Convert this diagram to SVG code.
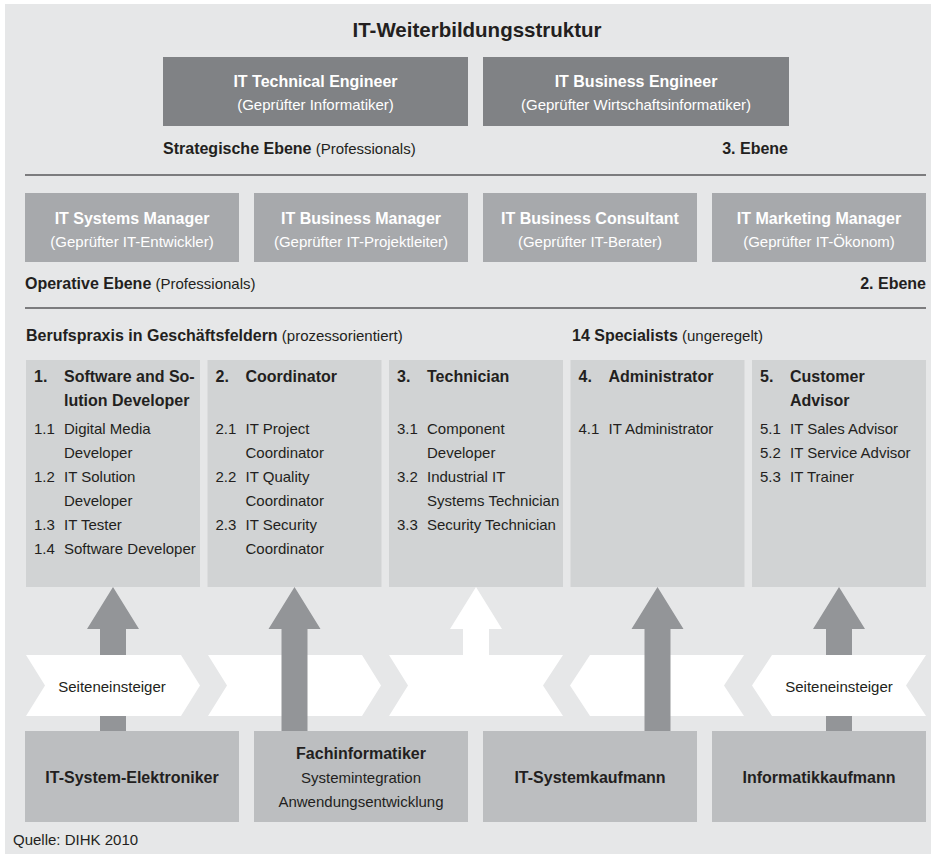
<svg xmlns="http://www.w3.org/2000/svg" xmlns:xlink="http://www.w3.org/1999/xlink" width="937" height="854" viewBox="0 0 937 854">
<style>
text { font-family: "Liberation Sans", Arial, sans-serif; fill: #231f20; }
.b { font-weight: bold; font-size: 16px; }
.r { font-weight: normal; font-size: 15px; }
.w { fill: #ffffff; }
.m { text-anchor: middle; }
.e { text-anchor: end; }
.top { fill: #808285; }
.mid { fill: #a7a9ac; }
.col { fill: #d1d3d4; }
.bot { fill: #bcbec0; }
.band { fill: #ffffff; }
.arr { fill: #939598; }
.rule { stroke: #58595b; stroke-width: 1.3; fill: none; }
</style>
<defs>
<path id="arrow" d="M0,0 L26,42 L13,42 L13,144 L-13,144 L-13,42 L-26,42 Z"/>
</defs>
<rect x="5" y="4" width="926" height="850" fill="#e6e7e8"/>
<text id="title" class="b m" x="477" y="37" style="font-size:20.5px">IT-Weiterbildungsstruktur</text>

<g id="it-technical-engineer">
<rect class="top" x="163" y="57" width="305" height="69"/>
<text class="b w m" x="315.5" y="87">IT Technical Engineer</text>
<text class="r w m" x="315.5" y="110">(Geprüfter Informatiker)</text>
</g>
<g id="it-business-engineer">
<rect class="top" x="483" y="57" width="306" height="69"/>
<text class="b w m" x="636" y="87">IT Business Engineer</text>
<text class="r w m" x="636" y="110">(Geprüfter Wirtschaftsinformatiker)</text>
</g>
<text class="b" x="163" y="154">Strategische Ebene<tspan class="r"> (Professionals)</tspan></text>
<text class="b e" x="788" y="154">3. Ebene</text>
<line class="rule" x1="25" y1="175" x2="926" y2="175"/>

<g id="it-systems-manager">
<rect class="mid" x="25" y="193" width="214" height="69"/>
<text class="b w m" x="132" y="224">IT Systems Manager</text>
<text class="r w m" x="132" y="247">(Geprüfter IT-Entwickler)</text>
</g>
<g id="it-business-manager">
<rect class="mid" x="254" y="193" width="214" height="69"/>
<text class="b w m" x="361" y="224">IT Business Manager</text>
<text class="r w m" x="361" y="247">(Geprüfter IT-Projektleiter)</text>
</g>
<g id="it-business-consultant">
<rect class="mid" x="483" y="193" width="214" height="69"/>
<text class="b w m" x="590" y="224">IT Business Consultant</text>
<text class="r w m" x="590" y="247">(Geprüfter IT-Berater)</text>
</g>
<g id="it-marketing-manager">
<rect class="mid" x="712" y="193" width="214" height="69"/>
<text class="b w m" x="819" y="224">IT Marketing Manager</text>
<text class="r w m" x="819" y="247">(Geprüfter IT-Ökonom)</text>
</g>
<text class="b" x="25" y="289">Operative Ebene<tspan class="r"> (Professionals)</tspan></text>
<text class="b e" x="926" y="289">2. Ebene</text>
<line class="rule" x1="25" y1="308" x2="926" y2="308"/>

<text class="b" x="26" y="341">Berufspraxis in Geschäftsfeldern<tspan class="r"> (prozessorientiert)</tspan></text>
<text class="b" x="572" y="341">14 Specialists<tspan class="r"> (ungeregelt)</tspan></text>

<g id="col-1-software-solution-developer">
<rect class="col" x="26" y="360" width="174" height="227"/>
<text class="b" x="34" y="382">1.</text>
<text class="b" x="64" y="382">Software and So-</text>
<text class="b" x="64" y="406">lution Developer</text>
<text class="r" x="34" y="434">1.1</text><text class="r" x="64" y="434">Digital Media</text>
<text class="r" x="64" y="458">Developer</text>
<text class="r" x="34" y="482">1.2</text><text class="r" x="64" y="482">IT Solution</text>
<text class="r" x="64" y="506">Developer</text>
<text class="r" x="34" y="530">1.3</text><text class="r" x="64" y="530">IT Tester</text>
<text class="r" x="34" y="554">1.4</text><text class="r" x="64" y="554">Software Developer</text>
</g>
<g id="col-2-coordinator">
<rect class="col" x="207.5" y="360" width="174" height="227"/>
<text class="b" x="215.5" y="382">2.</text>
<text class="b" x="245.5" y="382">Coordinator</text>
<text class="r" x="215.5" y="434">2.1</text><text class="r" x="245.5" y="434">IT Project</text>
<text class="r" x="245.5" y="458">Coordinator</text>
<text class="r" x="215.5" y="482">2.2</text><text class="r" x="245.5" y="482">IT Quality</text>
<text class="r" x="245.5" y="506">Coordinator</text>
<text class="r" x="215.5" y="530">2.3</text><text class="r" x="245.5" y="530">IT Security</text>
<text class="r" x="245.5" y="554">Coordinator</text>
</g>
<g id="col-3-technician">
<rect class="col" x="389" y="360" width="174" height="227"/>
<text class="b" x="397" y="382">3.</text>
<text class="b" x="427" y="382">Technician</text>
<text class="r" x="397" y="434">3.1</text><text class="r" x="427" y="434">Component</text>
<text class="r" x="427" y="458">Developer</text>
<text class="r" x="397" y="482">3.2</text><text class="r" x="427" y="482">Industrial IT</text>
<text class="r" x="427" y="506">Systems Technician</text>
<text class="r" x="397" y="530">3.3</text><text class="r" x="427" y="530">Security Technician</text>
</g>
<g id="col-4-administrator">
<rect class="col" x="570.5" y="360" width="174" height="227"/>
<text class="b" x="578.5" y="382">4.</text>
<text class="b" x="608.5" y="382">Administrator</text>
<text class="r" x="578.5" y="434">4.1</text><text class="r" x="608.5" y="434">IT Administrator</text>
</g>
<g id="col-5-customer-advisor">
<rect class="col" x="752" y="360" width="174" height="227"/>
<text class="b" x="760" y="382">5.</text>
<text class="b" x="790" y="382">Customer</text>
<text class="b" x="790" y="406">Advisor</text>
<text class="r" x="760" y="434">5.1</text><text class="r" x="790" y="434">IT Sales Advisor</text>
<text class="r" x="760" y="458">5.2</text><text class="r" x="790" y="458">IT Service Advisor</text>
<text class="r" x="760" y="482">5.3</text><text class="r" x="790" y="482">IT Trainer</text>
</g>

<g id="band">
<path class="band" d="M208,655 L362,655 L381,685.5 L362,716 L208,716 L227,685.5 Z"/>
<path class="band" d="M389,655 L563,655 L543,685.5 L563,716 L389,716 L408,685.5 Z"/>
<path class="band" d="M590,655 L744,655 L724,685.5 L744,716 L590,716 L570,685.5 Z"/>
</g>

<g id="connectors">
<use xlink:href="#arrow" class="arr" x="113" y="587"/>
<use xlink:href="#arrow" class="arr" x="294.5" y="587"/>
<path class="band" d="M476,587 L502,629 L489,629 L489,656 L463,656 L463,629 L450,629 Z"/>
<use xlink:href="#arrow" class="arr" x="657.5" y="587"/>
<use xlink:href="#arrow" class="arr" x="839" y="587"/>
</g>

<g id="seiteneinsteiger-left">
<path class="band" d="M26,655 L181,655 L200,685.5 L181,716 L26,716 L45,685.5 Z"/>
<text class="r m" x="112" y="692">Seiteneinsteiger</text>
</g>
<g id="seiteneinsteiger-right">
<path class="band" d="M772,655 L926,655 L906,685.5 L926,716 L772,716 L752,685.5 Z"/>
<text class="r m" x="839" y="692">Seiteneinsteiger</text>
</g>

<g id="it-system-elektroniker">
<rect class="bot" x="25" y="731" width="214" height="91"/>
<text class="b m" x="132" y="783">IT-System-Elektroniker</text>
</g>
<g id="fachinformatiker">
<rect class="bot" x="254" y="731" width="214" height="91"/>
<text class="b m" x="361" y="759">Fachinformatiker</text>
<text class="r m" x="361" y="783">Systemintegration</text>
<text class="r m" x="361" y="807">Anwendungsentwicklung</text>
</g>
<g id="it-systemkaufmann">
<rect class="bot" x="483" y="731" width="214" height="91"/>
<text class="b m" x="590" y="783">IT-Systemkaufmann</text>
</g>
<g id="informatikkaufmann">
<rect class="bot" x="712" y="731" width="214" height="91"/>
<text class="b m" x="819" y="783">Informatikkaufmann</text>
</g>
<text class="r" x="13" y="845">Quelle: DIHK 2010</text>
</svg>
